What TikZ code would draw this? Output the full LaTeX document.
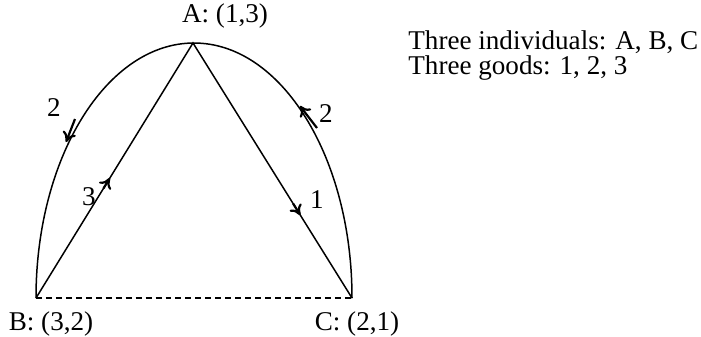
\documentclass[tikz,border=0pt]{standalone}
\usepackage{fontspec}
\setmainfont{Liberation Serif}
\usetikzlibrary{arrows.meta,positioning,calc}
\tikzset{
  edge/.style = {line width=0.75pt},
  flow/.style = {line width=1.1pt, -{To[length=5pt,width=7pt]}},
  lbl/.style = {inner sep=0pt, font=\fontsize{13.6}{16}\selectfont}
}
\begin{document}
\begin{tikzpicture}[x=0.5bp, y=0.5bp]
\useasboundingbox (0,0) rectangle (701,336);

% the three individuals
\coordinate (A) at (193,293);
\coordinate (B) at (36,38);
\coordinate (C) at (352,38);

\draw[edge] (B) arc[start angle=180, end angle=0, x radius=158, y radius=255];
\draw[edge] (B) -- (A) -- (C);
\draw[edge, dash pattern=on 3pt off 2pt] (B) -- (C);

\node[lbl] (lA) at (225,320) {A: (1,3)};
\node[lbl] (lB) at (51,12) {B: (3,2)};
\node[lbl] (lC) at (357,12) {C: (2,1)};

% direction of the goods
\coordinate (t3) at ($(B)!0.43!(A)$);
\coordinate (h3) at ($(B)!0.47!(A)$);
\coordinate (t1) at ($(A)!0.63!(C)$);
\coordinate (h1) at ($(A)!0.675!(C)$);
\coordinate (tl) at (75,217);
\coordinate (hl) at (66,194);
\coordinate (tr) at (317,208);
\coordinate (hr) at (300,230);
\draw[flow] (t3) -- (h3);
\draw[flow] (t1) -- (h1);
\draw[flow] (tl) -- (hl);
\draw[flow] (tr) -- (hr);

\node[lbl] (n3) at (89,139) {3};
\node[lbl] (n1) at (317,136) {1};
\node[lbl] (n2l) at (54,228) {2};
\node[lbl] (n2r) at (326,222) {2};

\node[lbl, anchor=west] (ind) at (408,294) {Three individuals: A, B, C};
\node[lbl, anchor=west] (goods) at (408,268) {Three goods: 1, 2, 3};
\end{tikzpicture}
\end{document}
